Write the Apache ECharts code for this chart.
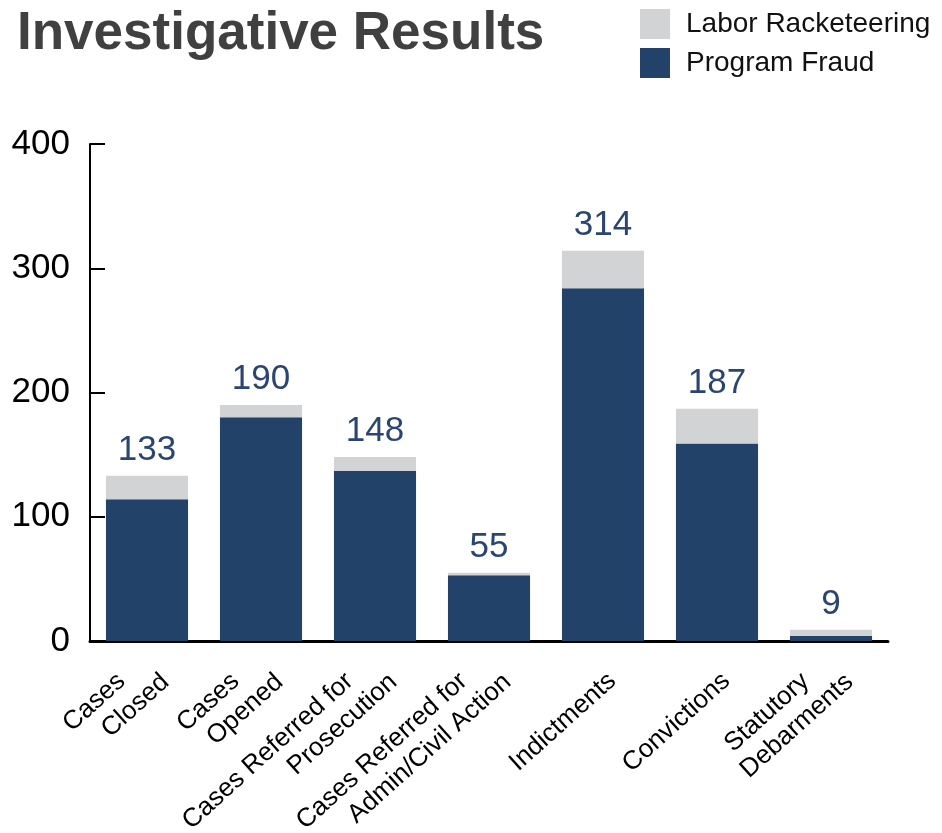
<!DOCTYPE html>
<html>
<head>
<meta charset="utf-8">
<script src="https://cdn.jsdelivr.net/npm/echarts@6/dist/echarts.min.js"></script>
<style>
  html, body { margin: 0; padding: 0; background: #ffffff; }
  #chart { width: 942px; height: 833px; }
</style>
</head>
<body>
<div id="chart"></div>
<script>
// Categories along the x axis (line breaks as printed under each bar)
const categories = [
  'Cases\nClosed',
  'Cases\nOpened',
  'Cases Referred for\nProsecution',
  'Cases Referred for\nAdmin/Civil Action',
  'Indictments',
  'Convictions',
  'Statutory\nDebarments'
];

// Stacked series values
const programFraud      = [114, 180, 137, 53, 284, 159, 4];
const laborRacketeering = [ 19,  10,  11,  2,  30,  28, 5];

// Y axis range and tick step
const yMin = 0;
const yMax = 400;
const yStep = 100;

const FONT = '"Liberation Sans", Arial, sans-serif';
const NAVY = '#23426a';
const GREY = '#d2d3d5';

const chart = echarts.init(document.getElementById('chart'), null, { renderer: 'canvas' });

// Category labels: single lines sit a little lower; two-line labels get a blank
// spacer line on top and are right-aligned with the first line held back a bit
function categoryLabel(value) {
  const lines = value.split('\n');
  if (lines.length === 1) return '{u|' + lines[0] + '}';
  return '{e| }\n{t|' + lines[0] + '}{s|}\n{w|' + lines[1] + '}';
}

const labelText = { fontFamily: FONT, fontSize: 26, color: '#000000', lineHeight: 30 };

chart.setOption({
  animation: false,
  backgroundColor: '#ffffff',
  textStyle: { fontFamily: FONT },
  title: {
    text: 'Investigative Results',
    left: 12,
    top: 3,
    textStyle: { fontFamily: FONT, fontSize: 53, fontWeight: 'bold', color: '#404040' }
  },
  legend: {
    data: ['Labor Racketeering', 'Program Fraud'],
    orient: 'vertical',
    left: 635,
    top: 4,
    itemWidth: 30,
    itemHeight: 30,
    itemGap: 9,
    icon: 'rect',
    textStyle: { fontFamily: FONT, fontSize: 28, color: '#111111', padding: [0, 0, 0, 11] }
  },
  grid: {
    left: 90, right: 54, top: 144, bottom: 192,
    containLabel: false,
    outerBoundsMode: 'none'
  },
  xAxis: {
    type: 'category',
    data: categories,
    axisLine: { lineStyle: { color: '#000000', width: 3 } },
    axisTick: { inside: true, length: 10, lineStyle: { color: '#000000', width: 2 } },
    axisLabel: {
      interval: 0,
      rotate: 42,
      margin: 26,
      formatter: categoryLabel,
      rich: {
        t: labelText,
        u: Object.assign({}, labelText, { padding: [28, 0, 0, 0] }),
        w: Object.assign({}, labelText, { padding: [0, -6, 0, 0] }),
        e: { fontFamily: FONT, fontSize: 10, lineHeight: 12, color: 'rgba(0,0,0,0)' },
        s: { width: 26 }
      }
    }
  },
  yAxis: {
    type: 'value',
    min: yMin,
    max: yMax,
    interval: yStep,
    splitLine: { show: false },
    axisLine: { show: true, lineStyle: { color: '#000000', width: 2 } },
    axisTick: { show: true, inside: true, length: 15, lineStyle: { color: '#000000', width: 2 } },
    axisLabel: { fontFamily: FONT, fontSize: 35, color: '#000000', margin: 20 }
  },
  series: [
    {
      name: 'Program Fraud',
      type: 'bar',
      stack: 'total',
      barWidth: '72%',
      itemStyle: { color: NAVY },
      data: programFraud
    },
    {
      name: 'Labor Racketeering',
      type: 'bar',
      stack: 'total',
      barWidth: '72%',
      itemStyle: { color: GREY },
      data: laborRacketeering,
      label: {
        show: true,
        position: 'top',
        distance: 8,
        fontFamily: FONT,
        fontSize: 35,
        color: '#2a4670',
        formatter: p => String(programFraud[p.dataIndex] + laborRacketeering[p.dataIndex])
      }
    }
  ]
});
</script>
</body>
</html>
